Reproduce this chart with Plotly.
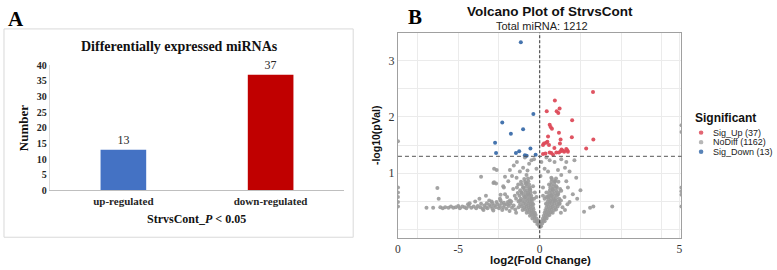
import plotly.graph_objects as go

# ---------------- Panel A data ----------------
bar_categories = ["up-regulated", "down-regulated"]
bar_values = [13, 37]
bar_colors = ["#4472C4", "#C00000"]
bar_yticks = [0, 5, 10, 15, 20, 25, 30, 35, 40]

# ---------------- Panel B data ----------------
sig_up_x = [3.27, 0.93, 1.22, 0.43, 1.04, 1.14, 1.99, 0.61, 0.67, 0.75, 1.18, 0.51, 1.97,
            1.28, 3.29, 0.26, 0.39, 0.47, 0.57, 0.20, 2.85, 1.34, 1.63, 1.69, 1.02, 1.18,
            1.50, 0.61, 1.28, 1.43, 0.71, 0.20, 0.35, 0.90, 1.24, 0.82, 1.73]
sig_up_y = [2.44, 2.29, 2.15, 2.10, 2.10, 2.07, 1.94, 1.86, 1.82, 1.79, 1.72, 1.65, 1.64,
            1.60, 1.60, 1.53, 1.54, 1.56, 1.50, 1.50, 1.44, 1.42, 1.43, 1.41, 1.37, 1.37,
            1.38, 1.37, 1.39, 1.40, 1.36, 1.34, 1.35, 1.45, 1.53, 1.33, 1.38]

sig_down_x = [-1.16, -0.39, -2.30, -1.02, -1.77, -2.74, -2.68, -1.46, -1.26, -0.57, -0.91, -0.80, -0.25]
sig_down_y = [3.32, 2.05, 1.90, 1.78, 1.70, 1.54, 1.36, 1.36, 1.39, 1.44, 1.32, 1.31, 1.33]

nodiff_tail = [(-6.95, 0.39), (-6.54, 0.39), (-6.10, 0.40), (-5.95, 0.38), (-5.80, 0.40),
               (-5.60, 0.39), (-5.45, 0.41), (-5.30, 0.39), (-5.15, 0.40), (-5.00, 0.42),
               (-4.90, 0.38), (-4.75, 0.41), (-4.60, 0.40), (-4.50, 0.38), (-4.35, 0.42),
               (-4.20, 0.39), (-4.05, 0.41), (-3.90, 0.38), (-3.80, 0.42), (-3.65, 0.40),
               (-3.50, 0.37), (-3.40, 0.43), (-3.30, 0.40), (-3.20, 0.38), (-3.10, 0.44),
               (-3.00, 0.41), (-2.90, 0.37), (-2.80, 0.43), (-2.70, 0.40), (-2.60, 0.45),
               (-2.50, 0.38), (-2.45, 0.42), (-2.35, 0.47), (-2.25, 0.40), (-2.15, 0.44),
               (-2.05, 0.37), (-1.95, 0.49), (-1.90, 0.42), (-1.80, 0.46), (-1.70, 0.39),
               (-1.60, 0.43), (-1.50, 0.36), (-3.60, 0.46), (-3.25, 0.47), (-2.95, 0.50),
               (-2.65, 0.49), (-2.40, 0.52), (-2.20, 0.48), (-2.00, 0.45), (-1.75, 0.50),
               (-3.45, 0.35), (-2.85, 0.34), (-2.30, 0.35), (-1.85, 0.33), (-4.40, 0.45)]

nodiff_cloud = [(0.00, 0.05), (-0.05, 0.07), (0.08, 0.06),
                (-0.15, 0.10), (-0.05, 0.11), (0.05, 0.10), (0.15, 0.11),
                (-0.30, 0.15), (-0.18, 0.15), (-0.08, 0.16), (0.10, 0.15), (0.22, 0.16), (0.30, 0.15),
                (-0.45, 0.20), (-0.32, 0.21), (-0.20, 0.20), (0.20, 0.20), (0.32, 0.21), (0.42, 0.20),
                (-0.60, 0.25), (-0.48, 0.26), (-0.35, 0.25), (-0.25, 0.26), (0.25, 0.25), (0.38, 0.26),
                (0.50, 0.25), (0.60, 0.26),
                (-0.80, 0.30), (-0.65, 0.31), (-0.52, 0.30), (-0.40, 0.31), (-0.30, 0.30), (0.30, 0.30),
                (0.42, 0.31), (0.55, 0.30), (0.68, 0.31), (0.80, 0.30),
                (-1.05, 0.35), (-0.90, 0.36), (-0.75, 0.35), (-0.62, 0.36), (-0.50, 0.35), (-0.38, 0.36),
                (0.35, 0.35), (0.48, 0.36), (0.60, 0.35), (0.72, 0.36), (0.88, 0.35), (1.00, 0.36),
                (-1.30, 0.40), (-1.10, 0.41), (-0.95, 0.40), (-0.80, 0.41), (-0.68, 0.40), (-0.55, 0.41),
                (-0.42, 0.40), (0.42, 0.40), (0.55, 0.41), (0.68, 0.40), (0.80, 0.41), (0.95, 0.40),
                (1.10, 0.41),
                (-1.20, 0.45), (-1.00, 0.46), (-0.85, 0.45), (-0.70, 0.46), (-0.58, 0.45), (-0.46, 0.46),
                (0.45, 0.45), (0.60, 0.46), (0.75, 0.45), (0.90, 0.46), (1.05, 0.45), (1.20, 0.46),
                (-1.30, 0.50), (-1.10, 0.51), (-0.92, 0.50), (-0.75, 0.51), (-0.60, 0.50), (-0.48, 0.51),
                (0.50, 0.50), (0.65, 0.51), (0.80, 0.50), (0.98, 0.51), (1.15, 0.50),
                (-1.15, 0.55), (-0.95, 0.56), (-0.78, 0.55), (-0.62, 0.56), (-0.50, 0.55),
                (0.52, 0.55), (0.70, 0.56), (0.85, 0.55), (1.00, 0.56), (1.20, 0.55),
                (-1.25, 0.60), (-1.00, 0.61), (-0.82, 0.60), (-0.65, 0.61), (-0.52, 0.60),
                (0.55, 0.60), (0.72, 0.61), (0.90, 0.60), (1.08, 0.61),
                (-1.10, 0.65), (-0.88, 0.66), (-0.70, 0.65), (-0.55, 0.66),
                (0.60, 0.65), (0.78, 0.66), (0.95, 0.65), (1.15, 0.66),
                (-1.20, 0.70), (-0.95, 0.71), (-0.75, 0.70), (-0.58, 0.71),
                (0.62, 0.70), (0.80, 0.71), (1.00, 0.70),
                (-1.00, 0.75), (-0.80, 0.76), (-0.62, 0.75), (0.65, 0.75), (0.85, 0.76), (1.05, 0.75),
                (-1.10, 0.80), (-0.85, 0.81), (-0.65, 0.80), (0.70, 0.80), (0.90, 0.81),
                (-0.90, 0.85), (-0.70, 0.86), (0.72, 0.85), (0.95, 0.86),
                (-0.95, 0.90), (-0.72, 0.91), (0.75, 0.90), (1.00, 0.91),
                (-1.45, 0.55), (-1.40, 0.75), (-1.15, 0.85), (1.25, 0.72), (1.30, 0.52),
                (-0.40, 0.45), (0.38, 0.46), (-0.35, 0.55), (0.40, 0.58), (1.15, 0.85)]

nodiff_scatter = [(-0.91, 1.28), (-0.51, 1.23), (-0.65, 1.17), (0.41, 1.28), (0.61, 1.23),
                  (0.91, 1.20), (1.32, 1.25), (1.63, 1.20), (2.13, 1.23), (-2.64, 1.06),
                  (-1.83, 1.06), (-1.59, 1.14), (-1.22, 1.03), (-1.02, 1.10), (-0.20, 1.08),
                  (0.30, 1.08), (0.51, 1.03), (1.12, 1.06), (1.32, 0.97), (1.83, 1.03),
                  (2.24, 0.92), (-2.13, 0.94), (-1.42, 0.92), (-0.81, 0.97), (-0.51, 0.92),
                  (0.71, 0.92), (0.91, 0.86), (1.63, 0.86), (-2.84, 0.83), (-2.24, 0.77),
                  (-1.93, 0.86), (-1.63, 0.72), (-1.32, 0.80), (-1.12, 0.66), (-1.02, 0.75),
                  (-0.81, 0.83), (-0.71, 0.63), (-0.61, 0.72), (-0.41, 0.77), (-0.30, 0.66),
                  (-0.20, 0.58), (-0.51, 0.55), (-0.91, 0.58), (-1.22, 0.52), (-1.53, 0.60),
                  (-1.83, 0.52), (-2.13, 0.63), (-2.44, 0.55), (0.20, 0.75), (0.41, 0.66),
                  (0.57, 0.80), (0.71, 0.60), (0.81, 0.72), (1.02, 0.77), (1.12, 0.63),
                  (1.32, 0.69), (1.52, 0.58), (1.73, 0.75), (1.83, 0.49), (2.03, 0.63),
                  (0.30, 0.55), (0.61, 0.49), (0.91, 0.52), (1.22, 0.46), (0.20, 0.60),
                  (0.51, 0.58), (-6.28, 0.74), (-6.20, 0.55), (-3.60, 0.94), (-3.96, 0.50),
                  (-2.80, 1.08), (-2.80, 0.84), (-2.68, 0.82), (-3.10, 0.52), (-2.90, 0.47),
                  (-4.30, 0.47), (-2.40, 0.62), (-2.20, 0.75), (-2.00, 0.58), (2.72, 0.32),
                  (3.09, 0.39), (3.29, 0.41), (4.45, 0.41), (-1.40, 1.20), (-0.35, 1.25),
                  (0.10, 1.20), (-0.75, 1.05), (1.55, 1.10), (-1.70, 0.95), (0.05, 0.95),
                  (2.50, 0.70), (2.30, 0.55), (-3.30, 0.60), (-3.70, 0.55), (1.40, 0.40),
                  (1.55, 0.35), (1.30, 0.30), (-1.45, 0.30), (1.70, 0.45), (-1.35, 0.65)]

nodiff_edge = [(-8.7, 0.41), (-8.7, 0.49), (-8.7, 0.58), (-8.7, 0.66), (-8.7, 0.75), (-8.7, 1.57),
               (8.7, 0.41), (8.7, 0.62), (8.7, 0.68), (8.7, 0.75), (8.7, 1.73), (8.7, 1.85)]

volcano_xtick_vals = [-8.7, -5, 0, 8.57]
volcano_xtick_text = ["0", "-5", "0", "5"]
volcano_ytick_vals = [1, 2, 3]
p_threshold = 1.301

nodiff_all = nodiff_tail + nodiff_cloud + nodiff_scatter + nodiff_edge
nodiff_x = [p[0] for p in nodiff_all]
nodiff_y = [p[1] for p in nodiff_all]

W, H = 777, 270
def px(x):
    return x / W
def py(y):
    return 1 - y / H

SERIF = "Liberation Serif, Times New Roman, serif"
SANS = "Liberation Sans, Arial, sans-serif"

COL_UP = "#DD4B5A"
COL_NO = "#9A9A9A"
COL_DOWN = "#3B6DAA"

fig = go.Figure()

# Panel A bars
fig.add_trace(go.Bar(
    x=bar_categories, y=bar_values, marker=dict(color=bar_colors, line=dict(width=0)),
    width=0.31, text=bar_values, textposition="outside", cliponaxis=False,
    textfont=dict(family=SERIF, size=12, color="#262626"),
    xaxis="x", yaxis="y", showlegend=False, hoverinfo="skip"))

# Panel B points
fig.add_trace(go.Scatter(
    x=nodiff_x, y=nodiff_y, mode="markers", xaxis="x2", yaxis="y2",
    marker=dict(color=COL_NO, size=4, opacity=0.9, line=dict(width=0)),
    showlegend=False, hoverinfo="skip"))
fig.add_trace(go.Scatter(
    x=sig_up_x, y=sig_up_y, mode="markers", xaxis="x2", yaxis="y2",
    marker=dict(color=COL_UP, size=4, opacity=0.95, line=dict(width=0)),
    showlegend=False, hoverinfo="skip"))
fig.add_trace(go.Scatter(
    x=sig_down_x, y=sig_down_y, mode="markers", xaxis="x2", yaxis="y2",
    marker=dict(color=COL_DOWN, size=4, opacity=0.95, line=dict(width=0)),
    showlegend=False, hoverinfo="skip"))

grid_col = "#EBEBEB"

fig.update_layout(
    width=W, height=H, margin=dict(l=0, r=0, t=0, b=0),
    paper_bgcolor="white", plot_bgcolor="white",
    xaxis=dict(domain=[px(47), px(343)], anchor="y", type="category",
               range=[-0.5, 1.5], showline=True, linecolor="#BFBFBF", linewidth=1,
               showgrid=False, ticks="", zeroline=False,
               tickfont=dict(family=SERIF, size=11, color="#262626", weight="bold")),
    yaxis=dict(domain=[py(193), py(62)], anchor="x", range=[0, 40],
               tickvals=bar_yticks, showline=True, linecolor="#D9D9D9", linewidth=1,
               showgrid=False, ticks="", zeroline=False,
               tickfont=dict(family=SERIF, size=10, color="#262626", weight="bold")),
    xaxis2=dict(domain=[px(397), px(682)], anchor="y2", range=[-8.7, 8.7],
                tickvals=volcano_xtick_vals, ticktext=volcano_xtick_text,
                showgrid=True, gridcolor=grid_col, gridwidth=1,
                minor=dict(tickvals=[-7.5, -2.5, 2.5, 5, 7.5], showgrid=True,
                           gridcolor=grid_col, gridwidth=1, ticks=""),
                showline=True, mirror=True, linecolor="#A0A0A0", linewidth=1.2,
                ticks="", zeroline=False,
                tickfont=dict(family=SERIF, size=11.5, color="#333333")),
    yaxis2=dict(domain=[py(243), py(28)], anchor="x2", range=[-0.15, 3.49],
                tickvals=volcano_ytick_vals,
                showgrid=True, gridcolor=grid_col, gridwidth=1,
                minor=dict(tickvals=[0, 0.5, 1.5, 2.5], showgrid=True,
                           gridcolor=grid_col, gridwidth=1, ticks=""),
                showline=True, mirror=True, linecolor="#A0A0A0", linewidth=1.2,
                ticks="", zeroline=False,
                tickfont=dict(family=SERIF, size=12, color="#333333")),
)

shapes = []
# Panel A frame
shapes.append(dict(type="rect", xref="paper", yref="paper", x0=px(1), x1=px(352),
                   y0=py(242), y1=py(24), line=dict(color="#D9D9D9", width=1), layer="below"))
# threshold lines
shapes.append(dict(type="line", xref="x2", yref="y2 domain", x0=0, x1=0, y0=0, y1=1,
                   line=dict(color="#333333", width=1, dash="3px,2px")))
shapes.append(dict(type="line", xref="x2 domain", yref="y2", x0=0, x1=1,
                   y0=p_threshold, y1=p_threshold,
                   line=dict(color="#555555", width=1, dash="4px,3px")))
# manual legend markers
legend_rows = [(132.5, COL_UP), (142.5, "#AAAAAA"), (152.5, COL_DOWN)]
for yy, c in legend_rows:
    shapes.append(dict(type="circle", xref="paper", yref="paper",
                       x0=px(699.4), x1=px(704.0), y0=py(yy + 2.3), y1=py(yy - 2.3),
                       fillcolor=c, line=dict(width=0), opacity=0.85))
fig.update_layout(shapes=shapes)

ann = []
def add_text(x, y, text, family, size, color="#000000", weight="normal",
             xanchor="center", angle=0):
    ann.append(dict(x=px(x), y=py(y), xref="paper", yref="paper", text=text,
                    showarrow=False, xanchor=xanchor, yanchor="middle", textangle=angle,
                    borderpad=0,
                    font=dict(family=family, size=size, color=color, weight=weight)))

# Panel A texts
add_text(13, 14, "A", SERIF, 21, weight="bold")
add_text(177, 42, "Differentially expressed miRNAs", SERIF, 14, color="#111111", weight="bold")
add_text(20, 128, "Number", SERIF, 13, color="#111111", weight="bold", angle=-90)
add_text(195, 223, "StrvsCont_<i>P</i> &lt; 0.05", SERIF, 12, color="#111111", weight="bold")

# Panel B texts
add_text(414, 12, "B", SERIF, 21, weight="bold")
add_text(550, 6, "Volcano Plot of StrvsCont", SANS, 13.5, color="#111111", weight="bold")
add_text(542, 21, "Total miRNA: 1212", SANS, 11, color="#222222")
add_text(540, 265.5, "log2(Fold Change)", SANS, 11.5, color="#111111", weight="bold")
add_text(375, 135, "-log10(pVal)", SANS, 10.5, color="#111111", weight="bold", angle=-90)

# Manual legend
add_text(695, 117, "Significant", SANS, 12, color="#111111", weight="bold", xanchor="left")
legend_labels = ["Sig_Up (37)", "NoDiff (1162)", "Sig_Down (13)"]
for (yy, _), lab in zip(legend_rows, legend_labels):
    add_text(713, yy, lab, SANS, 9, color="#222222", xanchor="left")

fig.update_layout(annotations=ann)

page_fix = (
    "var gd=document.getElementById('{plot_id}');"
    "gd.style.position='fixed';gd.style.top='0px';gd.style.left='0px';"
    "document.documentElement.style.margin='0';document.documentElement.style.padding='0';"
    "document.body.style.margin='0';document.body.style.padding='0';"
    "document.body.style.overflow='hidden';document.documentElement.style.overflow='hidden';"
)
fig.write_html("out.html", config={"displayModeBar": False}, post_script=page_fix)
